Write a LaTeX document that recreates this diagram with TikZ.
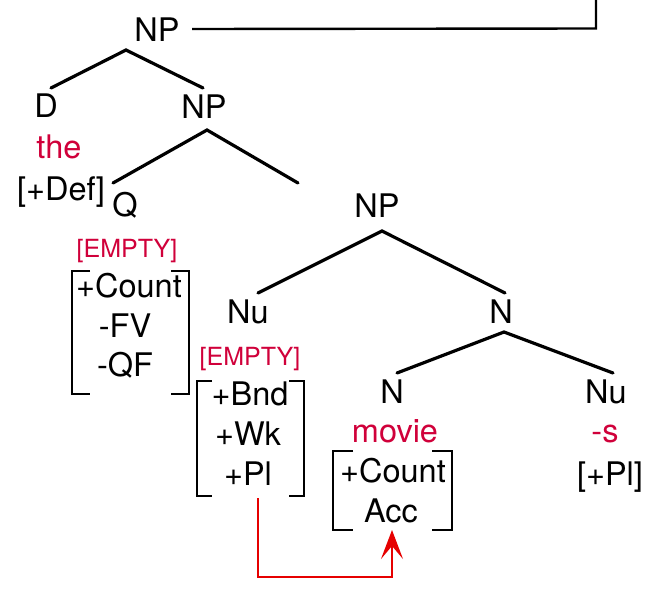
\documentclass[tikz,border=0pt]{standalone}
\usepackage{fontspec}
\setmainfont{TeX Gyre Heros}
\usetikzlibrary{arrows.meta}
\definecolor{wordred}{RGB}{208,0,58}
\definecolor{arrowred}{RGB}{230,0,0}
\begin{document}
\begin{tikzpicture}[x=1pt,y=-1pt,
  lbl/.style={anchor=base,inner sep=0pt,font=\fontsize{32.5}{38}\selectfont},
  word/.style={lbl,text=wordred},
  emp/.style={anchor=base,inner sep=0pt,text=wordred,font=\fontsize{25}{30}\selectfont},
  branch/.style={line width=3.2pt,line cap=round},
  brk/.style={line width=2.6pt},
  link/.style={line width=2.4pt,draw=arrowred,-{Stealth[length=29pt,width=22pt,inset=13pt]}}]
\useasboundingbox (0,0) rectangle (654,592);

% labels
\node[lbl] (np1) at (157,41) {NP};
\node[lbl] (d) at (46,117) {D};
\node[lbl] (np2) at (204,118) {NP};
\node[word] (the) at (59,158) {the};
\node[lbl] (def) at (61,200) {[+Def]};
\node[lbl] (q) at (125,216) {Q};
\node[lbl] (np3) at (377,217) {NP};
\node[emp] (empq) at (127,257) {[EMPTY]};
\node[lbl] (qc) at (129,297) {+Count};
\node[lbl] (qfv) at (125,337) {-FV};
\node[lbl] (qqf) at (125,376) {-QF};
\node[lbl] (nu1) at (248,323) {Nu};
\node[lbl] (n1) at (501,323) {N};
\node[emp] (empnu) at (250,365) {[EMPTY]};
\node[lbl] (bnd) at (250,405) {+Bnd};
\node[lbl] (wk) at (248,445) {+Wk};
\node[lbl] (pl) at (248,485) {+Pl};
\node[lbl] (n2) at (392,403) {N};
\node[lbl] (nu2) at (606,403) {Nu};
\node[word] (movie) at (395,442) {movie};
\node[word] (s) at (605,442) {-s};
\node[lbl] (plr) at (610,485) {[+Pl]};
\node[lbl] (mc) at (393,482) {+Count};
\node[lbl] (acc) at (391,522) {Acc};

% tree coordinates
\coordinate (a1) at (126,50);
\coordinate (a1l) at (51,88);
\coordinate (a1r) at (203,88);
\coordinate (a2) at (207,130);
\coordinate (a2l) at (113,183);
\coordinate (a2r) at (298,183);
\coordinate (a3) at (382,231);
\coordinate (a3l) at (258,293);
\coordinate (a3r) at (505,293);
\coordinate (a4) at (504,332);
\coordinate (a4l) at (397,373);
\coordinate (a4r) at (613,373);
\draw[branch] (a1l) -- (a1) -- (a1r);
\draw[branch] (a2l) -- (a2) -- (a2r);
\draw[branch] (a3l) -- (a3) -- (a3r);
\draw[branch] (a4l) -- (a4) -- (a4r);

% top line
\coordinate (t0) at (192,29);
\coordinate (t1) at (596,28.5);
\coordinate (t2) at (596,0);
\draw[line width=2.4pt] (t0) -- (t1) -- (t2);

% brackets
\draw[brk] (90,271) -- (72,271) -- (72,394) -- (90,394);
\draw[brk] (171,271) -- (189,271) -- (189,394) -- (171,394);
\draw[brk] (212,381) -- (197,381) -- (197,496) -- (212,496);
\draw[brk] (289,381) -- (304,381) -- (304,496) -- (289,496);
\draw[brk] (353,451) -- (333,451) -- (333,530) -- (353,530);
\draw[brk] (432,451) -- (452,451) -- (452,530) -- (432,530);

% red link
\coordinate (r0) at (258,498);
\coordinate (r1) at (258,577);
\coordinate (r2) at (392,577);
\coordinate (r3) at (392,530);
\draw[link] (r0) -- (r1) -- (r2) -- (r3);
\end{tikzpicture}
\end{document}
